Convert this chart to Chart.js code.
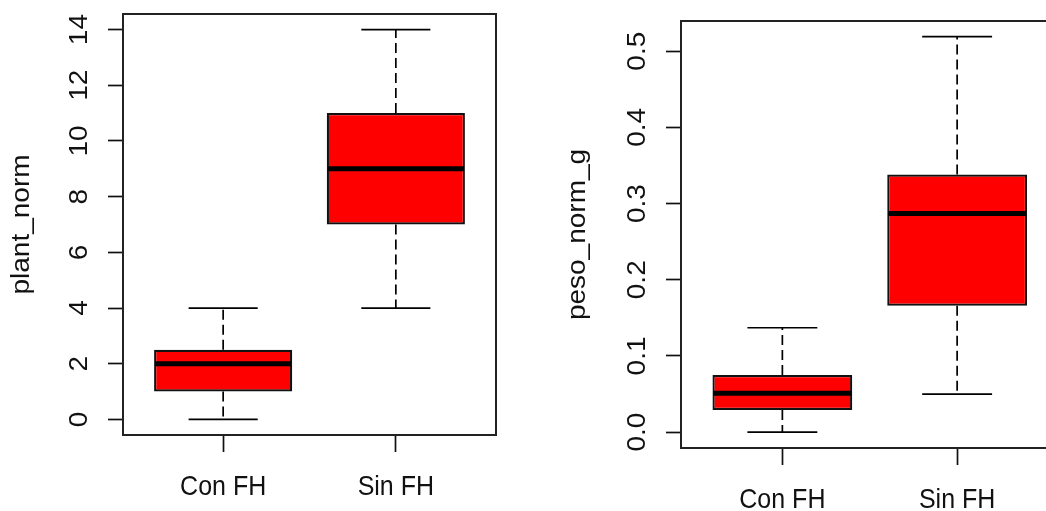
<!DOCTYPE html>
<html>
<head>
<meta charset="utf-8">
<script src="https://cdn.jsdelivr.net/npm/chart.js@4"></script>
<style>
  html, body { margin: 0; padding: 0; background: #fff; overflow: hidden; width: 1046px; height: 511px; }
  canvas { position: absolute; top: 0; }
  #left { left: 0; }
  #right { left: 523px; }
</style>
</head>
<body>
<canvas id="left" width="523" height="511"></canvas>
<canvas id="right" width="560" height="511"></canvas>
<script>
// groups on the x axis
const categories = ['Con FH', 'Sin FH'];

// plant_norm : whisker low, Q1, median, Q3, whisker high
const plantMin = [0, 4];
const plantQ1 = [1, 7];
const plantMed = [2, 9];
const plantQ3 = [2.5, 11];
const plantMax = [4, 14];
const plantTicks = [0, 2, 4, 6, 8, 10, 12, 14];
const plantTickLabels = ['0', '2', '4', '6', '8', '10', '12', '14'];

// peso_norm_g
const pesoMin = [0, 0.05];
const pesoQ1 = [0.029, 0.166];
const pesoMed = [0.051, 0.287];
const pesoQ3 = [0.075, 0.338];
const pesoMax = [0.137, 0.519];
const pesoTicks = [0, 0.1, 0.2, 0.3, 0.4, 0.5];
const pesoTickLabels = ['0.0', '0.1', '0.2', '0.3', '0.4', '0.5'];

const FONT = "'Liberation Sans', Arial, sans-serif";
const SY = 1.12; // the reference text is a bit taller than wide

function drawText(ctx, text, x, y, rotated) {
  ctx.save();
  ctx.translate(x, y);
  ctx.scale(1, SY);
  if (rotated) ctx.rotate(-Math.PI / 2);
  ctx.fillText(text, 0, 0);
  ctx.restore();
}

// whiskers, medians, frame and texts like R's boxplot
const boxPlugin = {
  id: 'boxExtras',
  afterDatasetsDraw(chart, args, opts) {
    const ctx = chart.ctx;
    const xs = chart.scales.x, ys = chart.scales.y;
    const bars = chart.getDatasetMeta(0).data;
    const a = chart.chartArea;
    ctx.save();
    ctx.strokeStyle = '#000';
    for (let i = 0; i < categories.length; i++) {
      const cx = xs.getPixelForValue(i + 1);
      const c0 = xs.getPixelForValue(i + 1 - 0.2);
      const c1 = xs.getPixelForValue(i + 1 + 0.2);
      // dashed whiskers, drawn from box outwards
      ctx.lineWidth = 1.7;
      ctx.setLineDash([10, 5]);
      ctx.beginPath();
      ctx.moveTo(cx, ys.getPixelForValue(opts.q3[i]));
      ctx.lineTo(cx, ys.getPixelForValue(opts.max[i]));
      ctx.moveTo(cx, ys.getPixelForValue(opts.q1[i]));
      ctx.lineTo(cx, ys.getPixelForValue(opts.min[i]));
      ctx.stroke();
      ctx.setLineDash([]);
      // caps
      ctx.beginPath();
      ctx.moveTo(c0, ys.getPixelForValue(opts.max[i]));
      ctx.lineTo(c1, ys.getPixelForValue(opts.max[i]));
      ctx.moveTo(c0, ys.getPixelForValue(opts.min[i]));
      ctx.lineTo(c1, ys.getPixelForValue(opts.min[i]));
      ctx.stroke();
      // median
      const b = bars[i];
      ctx.lineWidth = 5;
      ctx.beginPath();
      ctx.moveTo(b.x - b.width / 2 + 1, ys.getPixelForValue(opts.med[i]));
      ctx.lineTo(b.x + b.width / 2 - 1, ys.getPixelForValue(opts.med[i]));
      ctx.stroke();
    }
    // frame
    ctx.lineWidth = 2;
    ctx.strokeStyle = '#222';
    ctx.strokeRect(a.left, a.top, a.right - a.left, a.bottom - a.top);

    ctx.fillStyle = '#111';
    ctx.font = '25px ' + FONT;
    ctx.textAlign = 'center';
    ctx.textBaseline = 'middle';
    // y tick labels, rotated
    opts.ticks.forEach((v, k) => {
      drawText(ctx, opts.tickLabels[k], a.left - 43, ys.getPixelForValue(v), true);
    });
    // x tick labels
    categories.forEach((c, i) => {
      drawText(ctx, c, xs.getPixelForValue(i + 1), a.bottom + 52, false);
    });
    // y axis title
    drawText(ctx, opts.title, a.left - opts.titleOff, (a.top + a.bottom) / 2, true);
    ctx.restore();
  }
};

function makePanel(id, p) {
  const boxData = categories.map((c, i) => ({ x: i + 1, y: [p.q1[i], p.q3[i]] }));
  return new Chart(document.getElementById(id), {
    type: 'bar',
    data: {
      datasets: [{
        data: boxData,
        backgroundColor: '#ff0000',
        borderColor: '#111',
        borderWidth: 2.2,
        borderSkipped: false,
        barPercentage: 0.8,
        categoryPercentage: 1
      }]
    },
    options: {
      responsive: false,
      animation: false,
      layout: { padding: { top: p.top, right: p.right, left: 0, bottom: 0 } },
      plugins: {
        legend: { display: false },
        tooltip: { enabled: false },
        boxExtras: p
      },
      scales: {
        x: {
          type: 'linear',
          offset: false,
          min: 0.42,
          max: 2.58,
          afterBuildTicks: s => { s.ticks = categories.map((c, i) => ({ value: i + 1 })); },
          afterFit: s => { s.height = p.xh; },
          ticks: { display: false },
          grid: { offset: false, drawOnChartArea: false, drawTicks: true, tickLength: 17, tickColor: '#111', tickWidth: 1.7 },
          border: { display: false }
        },
        y: {
          min: p.ymin,
          max: p.ymax,
          afterBuildTicks: s => { s.ticks = p.ticks.map(v => ({ value: v })); },
          afterFit: s => { s.width = p.yw; },
          ticks: { display: false },
          grid: { drawOnChartArea: false, drawTicks: true, tickLength: 15, tickColor: '#111', tickWidth: 1.7 },
          border: { display: false }
        }
      }
    },
    plugins: [boxPlugin]
  });
}

makePanel('left', {
  title: 'plant_norm',
  min: plantMin, q1: plantQ1, med: plantMed, q3: plantQ3, max: plantMax,
  ticks: plantTicks, tickLabels: plantTickLabels,
  ymin: -0.56, ymax: 14.56,
  top: 14, right: 27, yw: 123, xh: 76, titleOff: 101
});

makePanel('right', {
  title: 'peso_norm_g',
  min: pesoMin, q1: pesoQ1, med: pesoMed, q3: pesoQ3, max: pesoMax,
  ticks: pesoTicks, tickLabels: pesoTickLabels,
  ymin: -0.0208, ymax: 0.5396,
  top: 21, right: 24.5, yw: 158, xh: 63, titleOff: 103
});
</script>
</body>
</html>
